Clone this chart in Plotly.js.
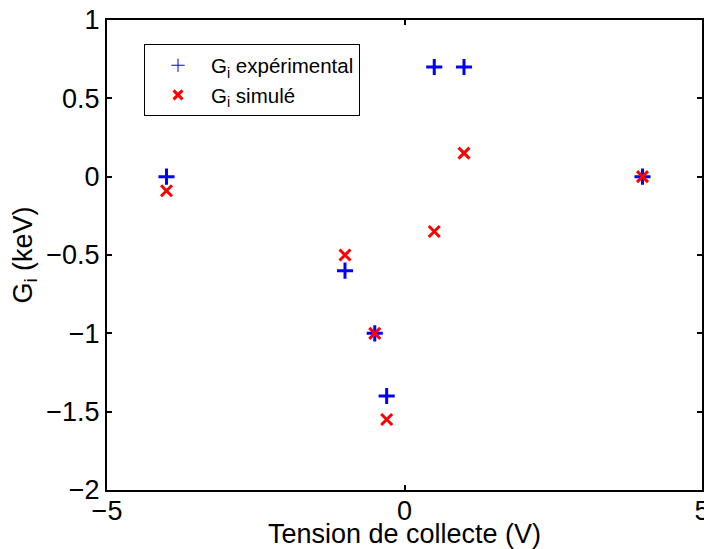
<!DOCTYPE html>
<html>
<head>
<meta charset="utf-8">
<script src="https://cdn.plot.ly/plotly-3.0.1.min.js"></script>
<style>html,body{margin:0;padding:0;background:#fff;}#chart{width:704px;height:549px;}</style>
</head>
<body>
<div id="chart"></div>
<script>
// Data
const tension = [-4, -1, -0.5, -0.3, 0.5, 1, 4];
const giExperimental = [0, -0.6, -1.0, -1.4, 0.7, 0.7, 0];
const giSimule = [-0.09, -0.5, -1.0, -1.55, -0.35, 0.15, 0];
const xTicks = [-5, 0, 5];
const yTicks = [-2, -1.5, -1, -0.5, 0, 0.5, 1];
const seriesNames = ['G<sub>i</sub> expérimental', 'G<sub>i</sub> simulé'];

const FONT = 'Liberation Sans, Arial, sans-serif';
const fmt = v => v < 0 ? '\u2212' + Math.abs(v) : String(v);

const traces = [
  {x: tension, y: giExperimental, type: 'scatter', mode: 'markers', showlegend: false,
   marker: {symbol: 'cross-thin', size: 11.5, color: 'blue', line: {color: 'blue', width: 3}}},
  {x: tension, y: giSimule, type: 'scatter', mode: 'markers', showlegend: false,
   marker: {symbol: 'x-thin', size: 11, color: 'red', line: {color: 'red', width: 3}}},
  // legend entries (thin blue +, thick red x as in the reference legend)
  {x: [null], y: [null], type: 'scatter', mode: 'markers', name: seriesNames[0],
   marker: {symbol: 'cross-thin', size: 9.5, color: 'blue', line: {color: 'blue', width: 1}}},
  {x: [null], y: [null], type: 'scatter', mode: 'markers', name: seriesNames[1],
   marker: {symbol: 'x-thin', size: 9, color: 'red', line: {color: 'red', width: 3}}}
];

const axisCommon = {
  showgrid: false, zeroline: false, showline: true, linecolor: 'black', linewidth: 2,
  mirror: 'ticks', ticks: 'inside', ticklen: 5, tickwidth: 2, tickcolor: 'black',
  tickfont: {family: FONT, size: 27, color: 'black'}, ticklabeloverflow: 'allow'
};

const layout = {
  width: 704, height: 549,
  margin: {l: 107, r: 2, t: 20, b: 59, pad: 0},
  paper_bgcolor: 'white', plot_bgcolor: 'white',
  font: {family: FONT, color: 'black'},
  xaxis: Object.assign({}, axisCommon, {
    range: [-5, 5], tickvals: xTicks, ticktext: xTicks.map(fmt), ticklabelstandoff: -4,
    title: {text: 'Tension de collecte (V)', font: {family: FONT, size: 27, color: 'black'}, standoff: 0},
    automargin: false
  }),
  yaxis: Object.assign({}, axisCommon, {
    range: [-2, 1], tickvals: yTicks, ticktext: yTicks.map(fmt),
    title: {text: 'G<sub>i</sub> (keV)', font: {family: FONT, size: 27, color: 'black'}, standoff: 6},
    automargin: false
  }),
  showlegend: true,
  legend: {
    x: 0.0622, y: 0.948, xanchor: 'left', yanchor: 'top',
    bgcolor: 'white', bordercolor: 'black', borderwidth: 1,
    font: {family: FONT, size: 20.5, color: 'black'},
    itemwidth: 56, tracegroupgap: 0
  }
};

Plotly.newPlot('chart', traces, layout, {staticPlot: true, displayModeBar: false});
</script>
</body>
</html>
